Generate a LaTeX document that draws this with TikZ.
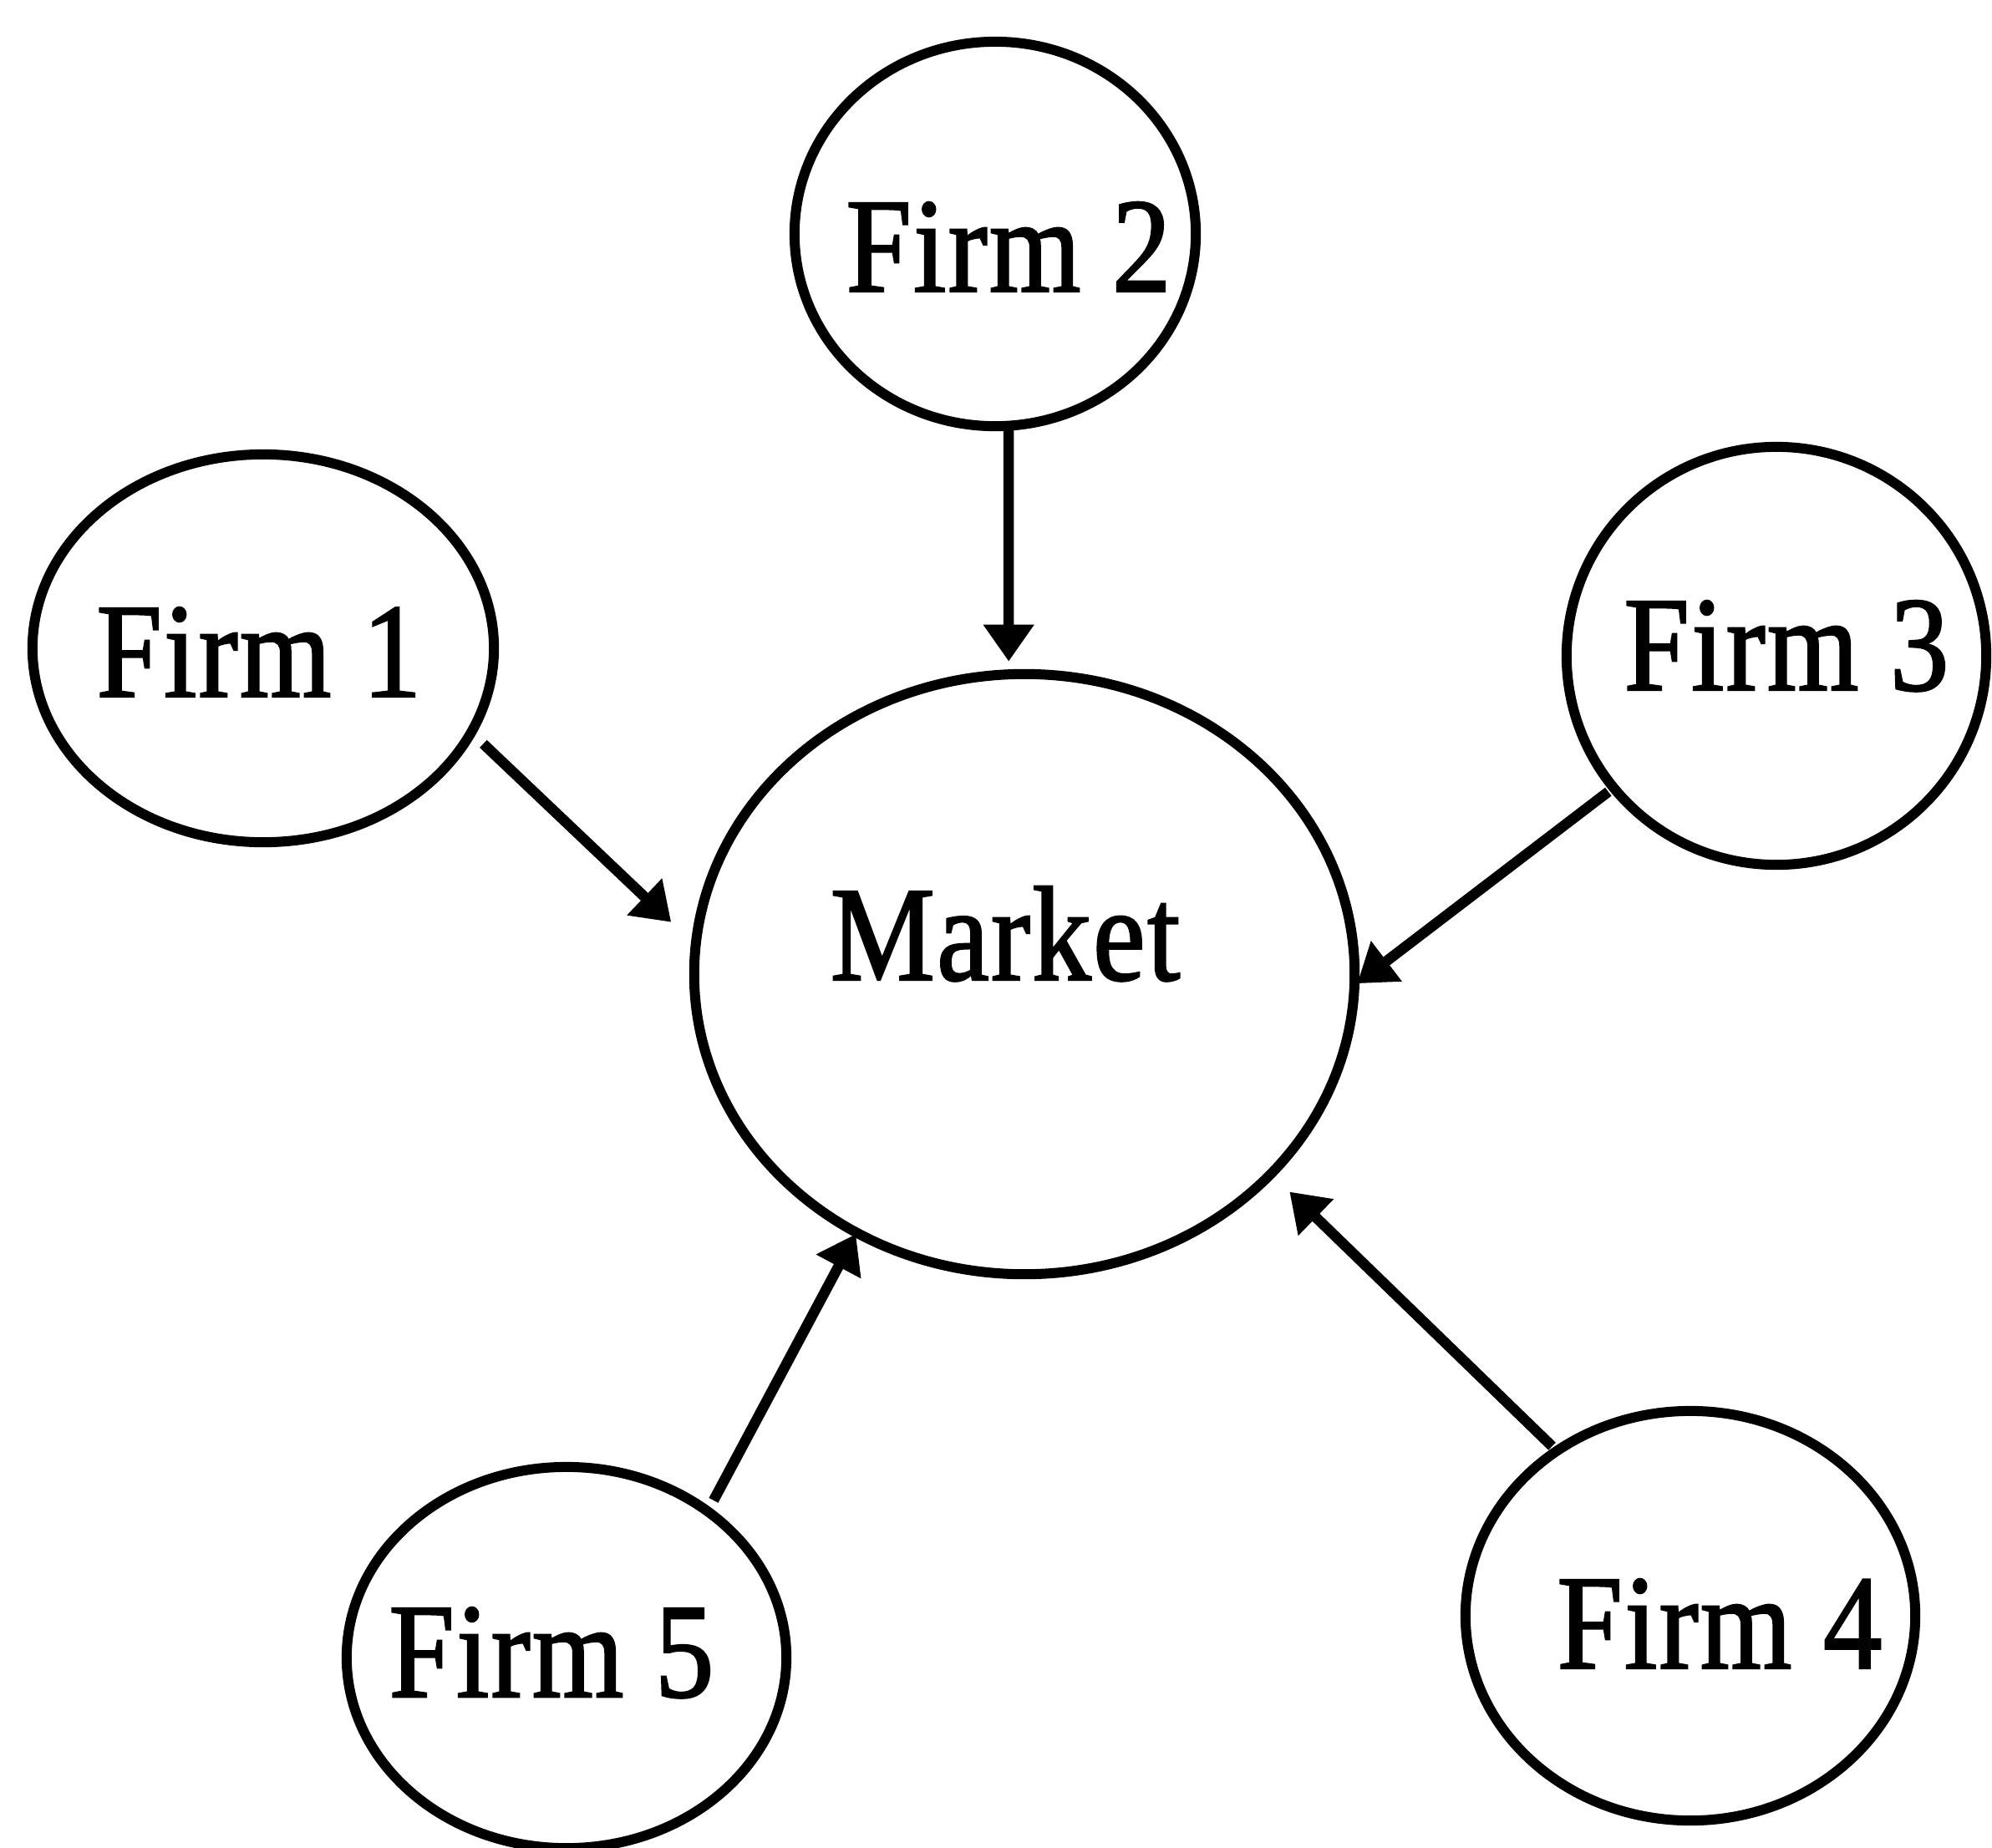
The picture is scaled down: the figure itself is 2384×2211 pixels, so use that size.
\documentclass[tikz,border=0pt]{standalone}
\usepackage{fontspec}
\setmainfont{Liberation Serif}[FakeStretch=0.87,FakeBold=1.5,LetterSpace=1.5]
\usetikzlibrary{arrows.meta,shapes.geometric}
\begin{document}
\begin{tikzpicture}[x=0.01cm,y=-0.01cm,
  bubble/.style={draw=black, ellipse, line width=0.12cm, inner sep=0pt, outer sep=0pt},
  firmtext/.style={anchor=base, inner sep=0pt, font=\fontsize{46}{50}\selectfont},
  feed/.style={line width=0.125cm, -{Triangle[length=0.44cm,width=0.58cm]}}]
\path[use as bounding box, clip] (0,0) rectangle (2384,2211);
\fill[white] (0,0) rectangle (2384,2211);

% the market in the middle
\node[bubble, minimum width=7.90cm, minimum height=7.18cm] (mkt) at (1226,1166) {};
\node[firmtext] (mkttxt) at (1203,1173) {Market};

% the five firms around it
\node[bubble, minimum width=5.52cm, minimum height=4.64cm] (f1) at (315,776) {};
\node[firmtext] (t1) at (310,834) {Firm 1};

\node[bubble, minimum width=4.80cm, minimum height=4.60cm] (f2) at (1191,280) {};
\node[firmtext] (t2) at (1207,349) {Firm 2};

\node[bubble, minimum width=5.02cm, minimum height=5.00cm] (f3) at (2126,785) {};
\node[firmtext] (t3) at (2138,826) {Firm 3};

\node[bubble, minimum width=5.38cm, minimum height=4.90cm] (f4) at (2023,1934) {};
\node[firmtext] (t4) at (2058,1997) {Firm 4};

\node[bubble, minimum width=5.26cm, minimum height=4.56cm] (f5) at (678,1984) {};
\node[firmtext] (t5) at (660,2031) {Firm 5};

% each firm feeds the market
\draw[feed, shorten <=0.20cm, shorten >=0.405cm] (f1.-22.1) -- (mkt.175.8);
\draw[feed, shorten <=0.05cm, shorten >=0.155cm] (f2.-86.26) -- (mkt.93.19);
\draw[feed, shorten <=0.08cm, shorten >=0.043cm] (f3.-141) -- (mkt.-2.41);
\draw[feed, shorten <=0.08cm, shorten >=0.31cm] (f4.129) -- (mkt.-39.32);
\draw[feed, shorten <=0.15cm, shorten >=0.02cm] (f5.46.94) -- (mkt.-123.5);
\end{tikzpicture}
\end{document}
